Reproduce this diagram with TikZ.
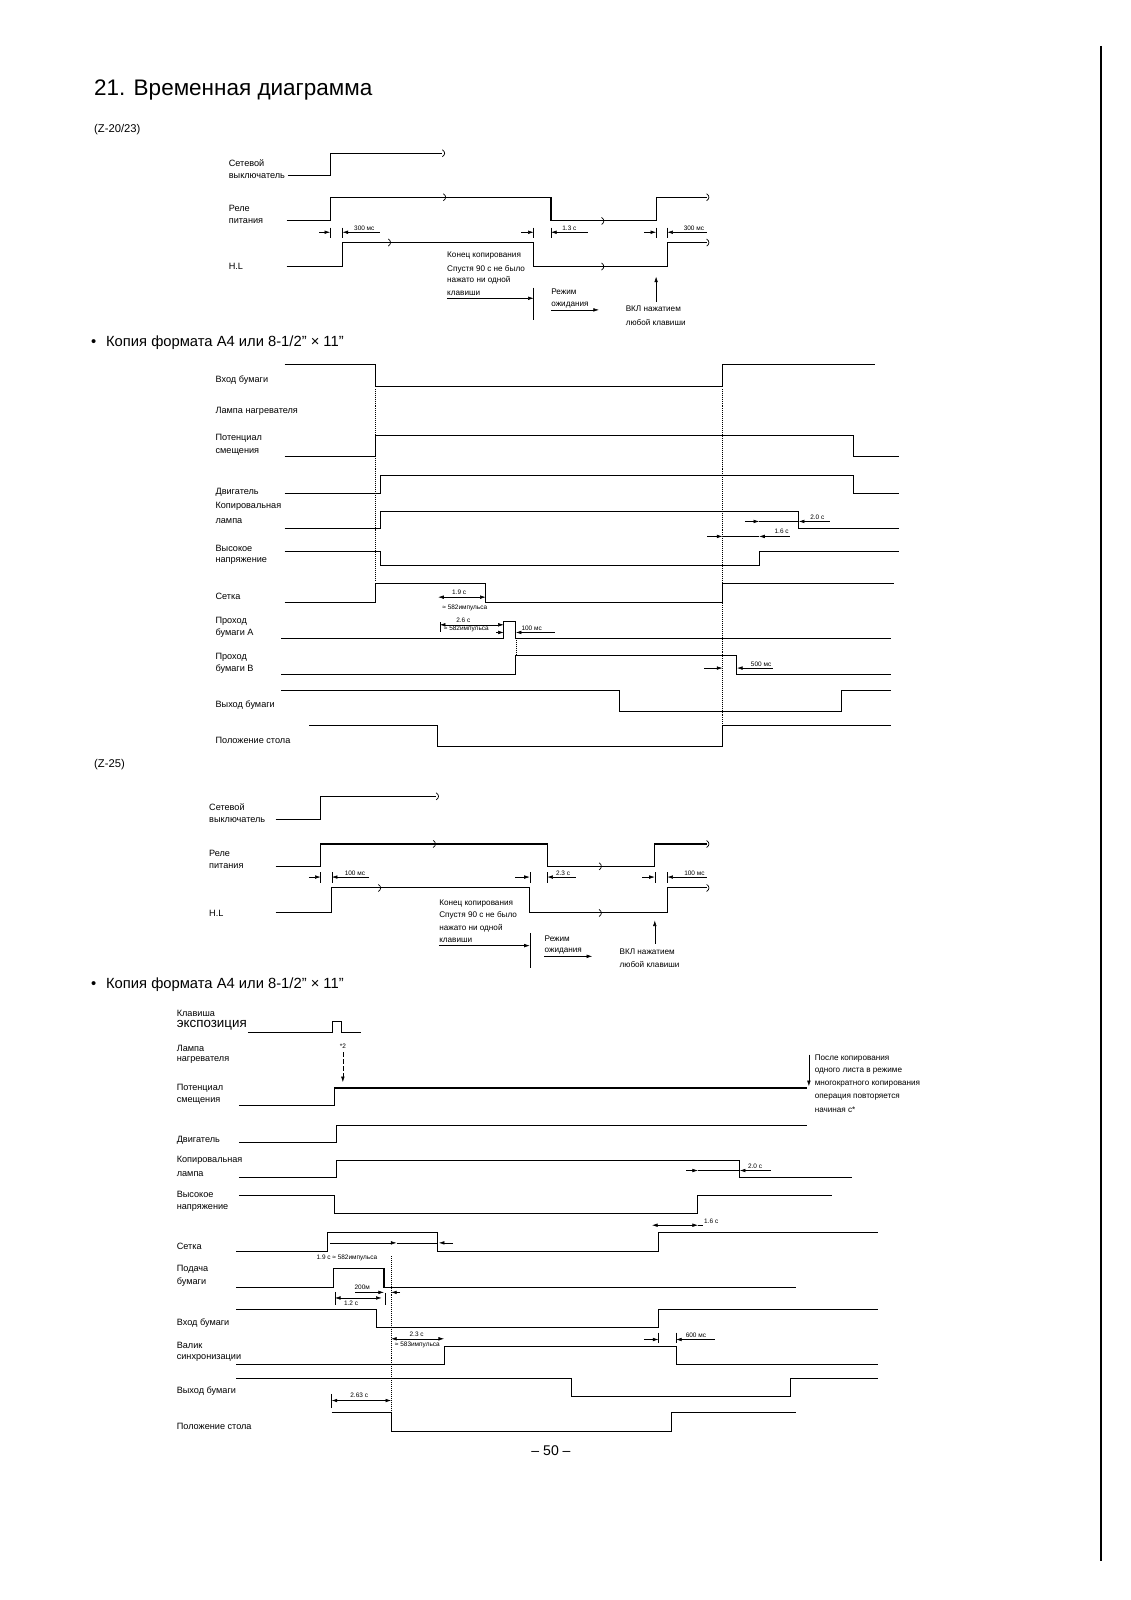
\documentclass[tikz,border=0pt]{standalone}
\usepackage{fontspec}
\setmainfont{Liberation Sans}
\usetikzlibrary{arrows.meta}

\tikzset{brk/.pic={\draw[line width=0.5pt] (-1.5,-3.5) .. controls (1.5,-1.5) and (1.5,1.5) .. (-1.5,3.5);}}

\begin{document}
\begin{tikzpicture}[x=0.025519cm,y=-0.025519cm,>=Latex,
  sig/.style={line width=0.75pt},
  lbl/.style={anchor=west,inner sep=0pt,font=\fontsize{6.5}{7}\selectfont},
  note/.style={anchor=west,inner sep=0pt,font=\fontsize{5.8}{6.5}\selectfont},
  dimlbl/.style={inner sep=0pt,font=\fontsize{4.6}{5}\selectfont},
  dimarr/.style={-{Latex[length=1.4mm,width=0.9mm]},line width=0.4pt},
  dimboth/.style={{Latex[length=1.4mm,width=0.9mm]}-{Latex[length=1.4mm,width=0.9mm]},line width=0.4pt},
  tk/.style={line width=0.4pt},
  dotln/.style={densely dotted,line width=0.4pt}]
\useasboundingbox (0,0) rectangle (1108,1568);
\draw[line width=2pt] (1079,45) -- (1079,1530);
% headings
\node[anchor=west,inner sep=0pt,font=\fontsize{16}{18}\selectfont] (title) at (92,88) {21. Временная диаграмма};
\node[anchor=west,inner sep=0pt,font=\fontsize{8}{9}\selectfont] (zA) at (92,127) {(Z-20/23)};
\node[anchor=west,inner sep=0pt,font=\fontsize{10.5}{12}\selectfont] (bulA) at (89,336) {\textbullet\hspace{7pt}Копия формата А4 или 8-1/2" × 11"};
\node[anchor=west,inner sep=0pt,font=\fontsize{8}{9}\selectfont] (zB) at (92,749) {(Z-25)};
\node[anchor=west,inner sep=0pt,font=\fontsize{10.5}{12}\selectfont] (bulB) at (89,965) {\textbullet\hspace{7pt}Копия формата А4 или 8-1/2" × 11"};
\node[inner sep=0pt,font=\fontsize{10}{12}\selectfont] (page) at (540,1422) {-- 50 --};

% (Z-20/23)
\node[lbl] (a1) at (224,160) {Сетевой};
\node[lbl] (a2) at (224,172.4) {выключатель};
\node[lbl] (a3) at (224,204) {Реле};
\node[lbl] (a4) at (224,216.5) {питания};
\node[lbl] (a5) at (224,261.2) {H.L};
\draw[sig] (282,172.4) -- (323.5,172.4) -- (323.5,150.2) -- (433.5,150.2);
\pic at (435,150.2) {brk};
\draw[sig] (281,216.5) -- (323.5,216.5) -- (323.5,193.3) -- (540,193.3) -- (540,216.5) -- (643,216.5) -- (643,193.3) -- (692.6,193.3);
\pic at (436,193.3) {brk};
\pic at (591,216.5) {brk};
\pic at (694,193.3) {brk};
\draw[sig] (281,261.2) -- (335.6,261.2) -- (335.6,237.7) -- (523,237.7) -- (523,261.2) -- (654,261.2) -- (654,237.7) -- (692.6,237.7);
\pic at (382,237.7) {brk};
\pic at (591,261.2) {brk};
\pic at (694,237.7) {brk};
\draw[tk] (323.5,223) -- (323.5,233) (335.6,223) -- (335.6,233);
\draw[dimarr] (313,227.6) -- (323.5,227.6);
\draw[dimarr] (372,227.6) -- (335.6,227.6);
\node[dimlbl] (a6) at (357,223.5) {300 мс};
\draw[tk] (523,223) -- (523,233) (540,223) -- (540,233);
\draw[dimarr] (511,227.6) -- (523,227.6);
\draw[dimarr] (576,227.6) -- (540,227.6);
\node[dimlbl] (a7) at (558,223.5) {1.3 с};
\draw[tk] (643,223) -- (643,233) (654,223) -- (654,233);
\draw[dimarr] (631.5,227.6) -- (643,227.6);
\draw[dimarr] (692.6,227.6) -- (654,227.6);
\node[dimlbl] (a8) at (680,223.5) {300 мс};
\node[note] (a9) at (438,250.8) {Конец копирования};
\node[note] (a10) at (438,263.8) {Спустя 90 с не было};
\node[note] (a11) at (438,275) {нажато ни одной};
\node[note] (a12) at (438,287.3) {клавиши};
\draw[dimarr] (438,292.3) -- (523,292.3);
\draw[tk] (523,281.8) -- (523,313.5);
\node[note] (a13) at (540,285.7) {Режим};
\node[note] (a14) at (540,298.8) {ожидания};
\draw[dimarr] (540,303.7) -- (587,303.7);
\draw[dimarr] (643,296) -- (643,271);
\node[note] (a15) at (613,303) {ВКЛ нажатием};
\node[note] (a16) at (613,315.7) {любой клавиши};

% A4, first chart
\node[lbl] (b1) at (211,372.3) {Вход бумаги};
\node[lbl] (b2) at (211,403.3) {Лампа нагревателя};
\node[lbl] (b3) at (211,429.4) {Потенциал};
\node[lbl] (b4) at (211,442.5) {смещения};
\node[lbl] (b5) at (211,482.6) {Двигатель};
\node[lbl] (b6) at (211,496.4) {Копировальная};
\node[lbl] (b7) at (211,511) {лампа};
\node[lbl] (b8) at (211,537) {Высокое};
\node[lbl] (b9) at (211,550.2) {напряжение};
\node[lbl] (b10) at (211,584.5) {Сетка};
\node[lbl] (b11) at (211,609) {Проход};
\node[lbl] (b12) at (211,620.4) {бумаги А};
\node[lbl] (b13) at (211,644) {Проход};
\node[lbl] (b14) at (211,655.7) {бумаги В};
\node[lbl] (b15) at (211,690.6) {Выход бумаги};
\node[lbl] (b16) at (211,725.6) {Положение стола};
\draw[sig] (279,357.6) -- (367.6,357.6) -- (367.6,378.8) -- (708,378.8) -- (708,357.6) -- (857.4,357.6);
\draw[sig] (279,447.4) -- (367.6,447.4) -- (367.6,427.1) -- (836.6,427.1) -- (836.6,447.4) -- (880.7,447.4);
\draw[sig] (279,483.3) -- (372.8,483.3) -- (372.8,466) -- (836.6,466) -- (836.6,483.3) -- (880.7,483.3);
\draw[sig] (279,518.2) -- (372.8,518.2) -- (372.8,501.2) -- (782.8,501.2) -- (782.8,518.2) -- (880.7,518.2);
\draw[sig] (279,540) -- (372.8,540) -- (372.8,554.2) -- (744,554.2) -- (744,540) -- (880.7,540);
\draw[sig] (279,590) -- (367.6,590) -- (367.6,571.4) -- (476,571.4) -- (476,590) -- (708,590) -- (708,571.4) -- (875.8,571.4);
\draw[sig] (275.7,625.3) -- (493.7,625.3) -- (493.7,609) -- (505.5,609) -- (505.5,625.3) -- (873.4,625.3);
\draw[sig] (275.7,661.3) -- (505.5,661.3) -- (505.5,642.6) -- (722.2,642.6) -- (722.2,661.3) -- (873.4,661.3);
\draw[sig] (275.7,676.6) -- (606.9,676.6) -- (606.9,697.2) -- (824.3,697.2) -- (824.3,676.6) -- (873.4,676.6);
\draw[sig] (303,710.9) -- (428.3,710.9) -- (428.3,731.5) -- (708,731.5) -- (708,710.9) -- (873.4,710.9);
\draw[dotln] (367.6,381) -- (367.6,570);
\draw[dotln] (708,381) -- (708,710);
\draw[dotln] (505.5,627) -- (505.5,641);
\draw[dimarr] (730,511) -- (744,511);
\draw[tk] (744,511) -- (782.8,511);
\draw[dimarr] (813,511) -- (782.8,511);
\node[dimlbl] (b17) at (801,506.5) {2.0 с};
\draw[dimarr] (693,525.7) -- (708,525.7);
\draw[tk] (708,525.7) -- (744,525.7);
\draw[dimarr] (774,525.7) -- (744,525.7);
\node[dimlbl] (b18) at (766,520.8) {1.6 с};
\draw[dimboth] (429.4,585.2) -- (476,585.2);
\node[dimlbl] (b19) at (450,580.5) {1.9 с};
\node[dimlbl] (b20) at (455.5,596) {≈ 582импульса};
\draw[dimboth] (431,612.3) -- (493.7,612.3);
\draw[tk] (431,610) -- (431,619);
\node[dimlbl] (b21) at (454,607.5) {2.6 с};
\node[dimlbl] (b22) at (457,616.5) {≈ 582импульса};
\draw[dimarr] (486.5,619.8) -- (493.7,619.8);
\draw[dimarr] (543.7,619.8) -- (505.5,619.8);
\node[dimlbl] (b23) at (521,615.5) {100 мс};
\draw[dimarr] (690.3,654.7) -- (708,654.7);
\draw[dimarr] (757.3,654.7) -- (722.2,654.7);
\node[dimlbl] (b24) at (745.9,650.5) {500 мс};

% (Z-25)
\node[lbl] (c1) at (204.7,790.9) {Сетевой};
\node[lbl] (c2) at (204.7,803.3) {выключатель};
\node[lbl] (c3) at (204.7,836.6) {Реле};
\node[lbl] (c4) at (204.7,849) {питания};
\node[lbl] (c5) at (204.7,894.7) {H.L};
\draw[sig] (270.2,803.3) -- (314.3,803.3) -- (314.3,780.4) -- (427.4,780.4);
\pic at (429,780.4) {brk};
\draw[sig] (270.2,849) -- (314.3,849) -- (314.3,827.1) -- (536.3,827.1) -- (536.3,849) -- (641.7,849) -- (641.7,827.1) -- (692.6,827.1);
\pic at (426,827.1) {brk};
\pic at (588.6,849) {brk};
\pic at (694,827.1) {brk};
\draw[sig] (270.2,894.7) -- (325.2,894.7) -- (325.2,870.2) -- (519.2,870.2) -- (519.2,894.7) -- (654,894.7) -- (654,870.2) -- (692.6,870.2);
\pic at (372.3,870.2) {brk};
\pic at (588.6,894.7) {brk};
\pic at (694,870.2) {brk};
\draw[tk] (314.3,855) -- (314.3,865) (325.2,855) -- (325.2,865);
\draw[dimarr] (302.6,859.5) -- (314.3,859.5);
\draw[dimarr] (362,859.5) -- (325.2,859.5);
\node[dimlbl] (c6) at (347.8,855.5) {100 мс};
\draw[tk] (519.2,855) -- (519.2,865) (536.3,855) -- (536.3,865);
\draw[dimarr] (504.9,859.5) -- (519.2,859.5);
\draw[dimarr] (564,859.5) -- (536.3,859.5);
\node[dimlbl] (c7) at (551.8,855.5) {2.3 с};
\draw[tk] (641.7,855) -- (641.7,865) (654,855) -- (654,865);
\draw[dimarr] (629.4,859.5) -- (641.7,859.5);
\draw[dimarr] (692.6,859.5) -- (654,859.5);
\node[dimlbl] (c8) at (680.5,855.5) {100 мс};
\node[note] (c9) at (430.2,885.6) {Конец копирования};
\node[note] (c10) at (430.2,897) {Спустя 90 с не было};
\node[note] (c11) at (430.2,909.4) {нажато ни одной};
\node[note] (c12) at (430.2,921.5) {клавиши};
\draw[dimarr] (430.2,926.7) -- (519.2,926.7);
\draw[tk] (519.2,914.3) -- (519.2,948.6);
\node[note] (c13) at (533.5,919.9) {Режим};
\node[note] (c14) at (533.5,932.3) {ожидания};
\draw[dimarr] (533.5,937.2) -- (580.4,937.2);
\draw[dimarr] (641.7,925) -- (641.7,902);
\node[note] (c15) at (607,932.3) {ВКЛ нажатием};
\node[note] (c16) at (607,945.3) {любой клавиши};

% A4, second chart
\node[lbl] (d1) at (173,992.7) {Клавиша};
\node[anchor=west,inner sep=0pt,font=\fontsize{9.5}{10}\selectfont] (d2) at (173,1005.1) {экспозиция};
\node[lbl] (d3) at (173,1027.9) {Лампа};
\node[lbl] (d4) at (173,1039.1) {нагревателя};
\node[lbl] (d5) at (173,1066.2) {Потенциал};
\node[lbl] (d6) at (173,1079.2) {смещения};
\node[lbl] (d7) at (173,1117) {Двигатель};
\node[lbl] (d8) at (173,1137) {Копировальная};
\node[lbl] (d9) at (173,1151) {лампа};
\node[lbl] (d10) at (173,1170.6) {Высокое};
\node[lbl] (d11) at (173,1183.7) {напряжение};
\node[lbl] (d12) at (173,1221.3) {Сетка};
\node[lbl] (d13) at (173,1243.5) {Подача};
\node[lbl] (d14) at (173,1256.6) {бумаги};
\node[lbl] (d15) at (173,1296.4) {Вход бумаги};
\node[lbl] (d16) at (173,1318.3) {Валик};
\node[lbl] (d17) at (173,1331.3) {синхронизации};
\node[lbl] (d18) at (173,1363.3) {Выход бумаги};
\node[lbl] (d19) at (173,1397.6) {Положение стола};
\draw[sig] (243,1011.6) -- (326,1011.6) -- (326,1000.9) -- (334.3,1000.9) -- (334.3,1011.6) -- (353.5,1011.6);
\node[dimlbl] (d20) at (336,1025) {*2};
\draw[dimarr,densely dashed] (336,1031.3) -- (336,1060.6);
\draw[sig] (234,1083.5) -- (327.5,1083.5) -- (327.5,1066.2) -- (791,1066.2);
\draw[dimarr] (792.7,1033.5) -- (792.7,1064.5);
\node[note] (d21) at (798.2,1037.7) {После копирования};
\node[note] (d22) at (798.2,1049.9) {одного листа в режиме};
\node[note] (d23) at (798.2,1062.2) {многократного копирования};
\node[note] (d24) at (798.2,1075.3) {операция повторяется};
\node[note] (d25) at (798.2,1087.4) {начиная с*};
\draw[sig] (234,1119.5) -- (329.5,1119.5) -- (329.5,1102.7) -- (791,1102.7);
\draw[sig] (234,1154.3) -- (329.5,1154.3) -- (329.5,1137) -- (725,1137) -- (725,1154.3) -- (835.1,1154.3);
\draw[dimarr] (672.7,1147.1) -- (684,1147.1);
\draw[tk] (684,1147.1) -- (725,1147.1);
\draw[dimarr] (755.3,1147.1) -- (725,1147.1);
\node[dimlbl] (d26) at (740,1142.5) {2.0 с};
\draw[sig] (234,1171.3) -- (327.5,1171.3) -- (327.5,1189.3) -- (684,1189.3) -- (684,1171.3) -- (815.8,1171.3);
\draw[dimboth] (639,1200.7) -- (684,1200.7);
\draw[tk] (684,1200.7) -- (688.6,1200.7);
\node[dimlbl] (d27) at (697,1196.5) {1.6 с};
\draw[sig] (231.7,1226.8) -- (321.2,1226.8) -- (321.2,1208.2) -- (428.6,1208.2) -- (428.6,1226.8) -- (645.3,1226.8) -- (645.3,1208.2) -- (860.5,1208.2);
\draw[dimarr] (323.3,1218) -- (388.6,1218);
\draw[tk] (388.6,1218) -- (428.6,1218);
\draw[dimarr] (444,1218) -- (430,1218);
\node[dimlbl,anchor=west] (d28) at (310,1232.7) {1.9 с ≈ 582импульса};
\draw[sig] (231.7,1261.4) -- (326.9,1261.4) -- (326.9,1243.5) -- (376.3,1243.5) -- (376.3,1261.4) -- (780.4,1261.4);
\node[dimlbl] (d29) at (355,1261.5) {200м};
\draw[dimarr] (348,1266.5) -- (376.3,1266.5);
\draw[dimarr] (392,1266.5) -- (383.3,1266.5);
\draw[dimboth] (328.2,1272) -- (374,1272);
\draw[tk] (328.2,1266) -- (328.2,1279) (378,1267) -- (378,1279);
\node[dimlbl] (d30) at (344,1277.5) {1.2 с};
\draw[dotln] (383.3,1231) -- (383.3,1384);
\draw[sig] (231.7,1283.3) -- (369.2,1283.3) -- (369.2,1301.3) -- (645.3,1301.3) -- (645.3,1283.3) -- (860.5,1283.3);
\draw[tk] (645.3,1306) -- (645.3,1316) (662.6,1306) -- (662.6,1316);
\draw[dimarr] (631.1,1312.7) -- (645.3,1312.7);
\draw[dimarr] (700.3,1312.7) -- (662.6,1312.7);
\node[dimlbl] (d31) at (682,1308.5) {600 мс};
\draw[dimboth] (383.3,1312) -- (435.2,1312);
\node[dimlbl] (d32) at (408.3,1307.1) {2.3 с};
\node[dimlbl] (d33) at (409,1318.3) {≈ 583импульса};
\draw[sig] (231.7,1337.2) -- (435.2,1337.2) -- (435.2,1319.9) -- (662.6,1319.9) -- (662.6,1337.2) -- (860.5,1337.2);
\draw[sig] (231.7,1351.2) -- (560.4,1351.2) -- (560.4,1368.8) -- (774.8,1368.8) -- (774.8,1351.2) -- (860.5,1351.2);
\draw[dimboth] (325,1372.5) -- (383.3,1372.5);
\draw[tk] (325,1366) -- (325,1380);
\node[dimlbl] (d34) at (352,1367.3) {2.63 с};
\draw[sig] (325,1384.5) -- (383.3,1384.5) -- (383.3,1402.5) -- (657.9,1402.5) -- (657.9,1384.5) -- (780.4,1384.5);
\end{tikzpicture}
\end{document}
